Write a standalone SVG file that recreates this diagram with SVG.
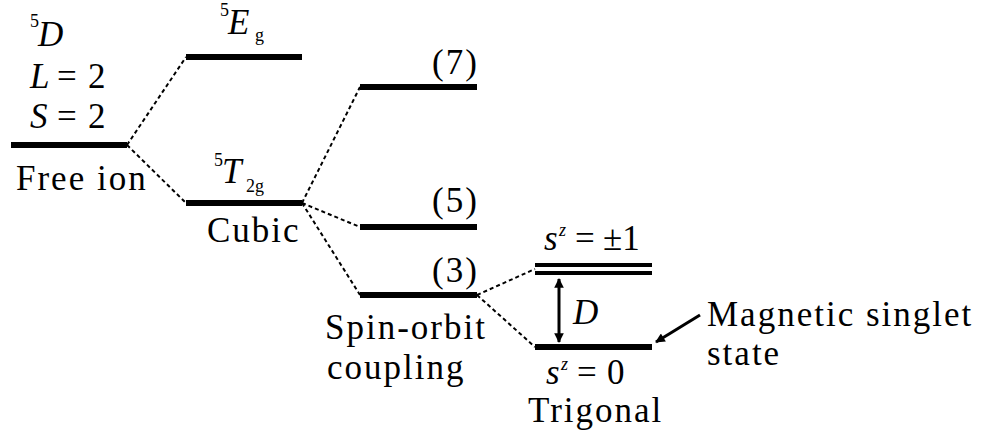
<svg xmlns="http://www.w3.org/2000/svg" width="981" height="436" viewBox="0 0 981 436">
<style>
text{font-family:'Liberation Serif','DejaVu Serif','Noto Serif',Tinos,Times,serif;fill:#000}
.t{font-size:35px;letter-spacing:2px}
.m{font-size:35px}
.i{font-style:italic}
.s{font-size:18px}
.lv{stroke:#000;stroke-width:6;fill:none}
.lv2{stroke:#000;stroke-width:4;fill:none}
.d{stroke:#000;stroke-width:2;stroke-dasharray:4 3;fill:none}
</style>
<defs>
<marker id="ah" viewBox="0 0 10 10" refX="9" refY="5" markerWidth="3.6" markerHeight="3.2" orient="auto-start-reverse" markerUnits="strokeWidth">
<path d="M0,0 L10,5 L0,10 z" fill="#000"/>
</marker>
</defs>
<g id="connectors">
<path class="d" d="M127,145 L186,57"/>
<path class="d" d="M127,145 L186,203"/>
<path class="d" d="M302,203 L360,87"/>
<path class="d" d="M302,203 L360,227"/>
<path class="d" d="M302,203 L360,295"/>
<path class="d" d="M477,295 L535,269"/>
<path class="d" d="M477,295 L535,347"/>
<line x1="559" y1="279" x2="559" y2="342" stroke="#000" stroke-width="3" marker-start="url(#ah)" marker-end="url(#ah)"/>
<line x1="700" y1="315" x2="656" y2="342" stroke="#000" stroke-width="3" marker-end="url(#ah)"/>
</g>
<g id="free-ion">
<line class="lv" x1="11" y1="145" x2="127" y2="145"/>
<text class="s" x="30" y="27">5</text>
<text class="m i" x="38" y="46">D</text>
<text class="m" x="30" y="88"><tspan class="i">L</tspan><tspan x="57">=</tspan><tspan x="88">2</tspan></text>
<text class="m" x="30" y="128"><tspan class="i">S</tspan><tspan x="57">=</tspan><tspan x="88">2</tspan></text>
<text class="t" x="16" y="190">Free ion</text>
</g>
<g id="eg">
<line class="lv" x1="186" y1="57" x2="302" y2="57"/>
<text class="s" x="220" y="16">5</text>
<text class="m i" x="228" y="34">E</text>
<text class="s" x="255" y="41">g</text>
</g>
<g id="t2g">
<line class="lv" x1="186" y1="203" x2="302" y2="203"/>
<text class="s" x="214" y="166">5</text>
<text class="m i" x="222" y="183">T</text>
<text class="s" x="246" y="192">2g</text>
<text class="t" x="207" y="242">Cubic</text>
</g>
<g id="level7">
<line class="lv" x1="360" y1="87" x2="477" y2="87"/>
<text class="t" x="432" y="74">(7)</text>
</g>
<g id="level5">
<line class="lv" x1="360" y1="227" x2="477" y2="227"/>
<text class="t" x="432" y="212">(5)</text>
</g>
<g id="level3">
<line class="lv" x1="360" y1="295" x2="477" y2="295"/>
<text class="t" x="432" y="282">(3)</text>
<text class="t" x="325" y="339">Spin-orbit</text>
<text class="t" x="327" y="379">coupling</text>
</g>
<g id="sz1">
<line class="lv2" x1="535" y1="265" x2="652" y2="265"/>
<line class="lv2" x1="535" y1="273" x2="652" y2="273"/>
<text class="m i" x="544" y="250">s</text>
<text class="s i" x="559" y="236">z</text>
<text class="m" x="575" y="250">=</text>
<text class="m" x="603" y="250">±1</text>
</g>
<g id="sz0">
<line class="lv" x1="535" y1="347" x2="652" y2="347"/>
<text class="m i" x="573" y="324">D</text>
<text class="m i" x="546" y="384">s</text>
<text class="s i" x="561" y="370">z</text>
<text class="m" x="577" y="384">=</text>
<text class="m" x="607" y="384">0</text>
<text class="t" x="528" y="422">Trigonal</text>
</g>
<g id="magnetic">
<text class="t" x="707" y="326">Magnetic singlet</text>
<text class="t" x="707" y="365">state</text>
</g>
</svg>
